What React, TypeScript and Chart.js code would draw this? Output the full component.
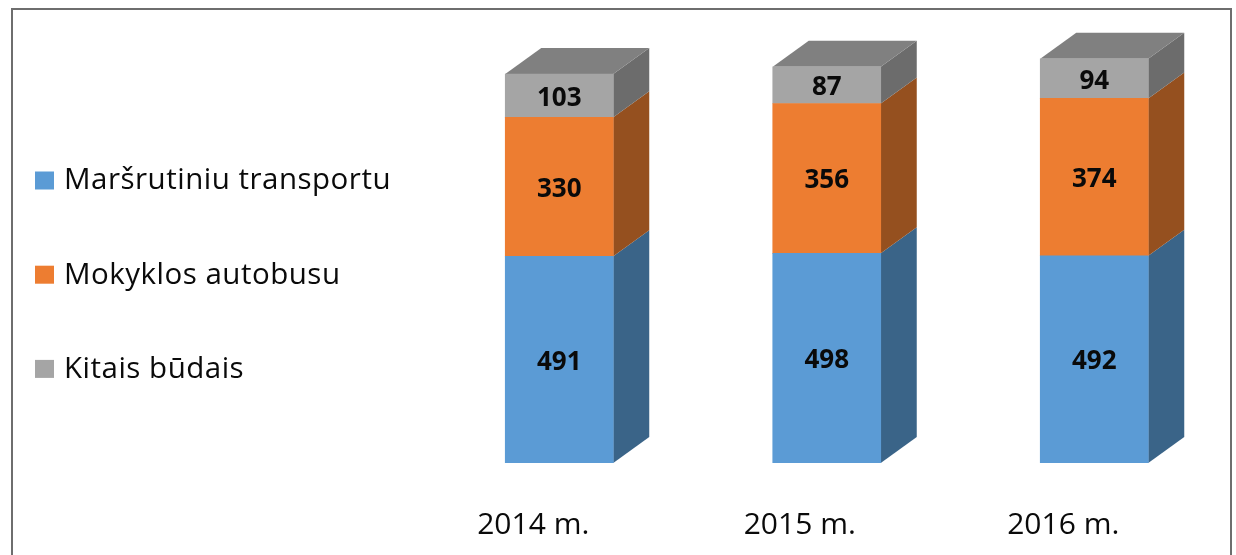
import { useEffect, useRef } from "react";
import { Chart, registerables } from "chart.js";

Chart.register(...registerables);

const categories = ["2014 m.", "2015 m.", "2016 m."];
const seriesNames = ["Maršrutiniu transportu", "Mokyklos autobusu", "Kitais būdais"];
const marsrutiniu = [491, 498, 492];
const mokyklos = [330, 356, 374];
const kitais = [103, 87, 94];
const frontColors = ["#5B9BD5", "#ED7D31", "#A5A5A5"];
const sideColors = ["#3A6488", "#95501F", "#6C6C6C"];
const capColor = "#808080";
const categoryLabelShift = [-26, -27, -31];

const DEPTH_X = 36;
const DEPTH_Y = 26;
const TEXT = "#0A0A0A";
const FONT = '"Open Sans", "Noto Sans", sans-serif';

const decorations = {
  id: "decorations",
  beforeDraw(chart: any) {
    const c = chart.ctx;
    c.save();
    c.fillStyle = "#ffffff";
    c.fillRect(0, 0, chart.width, chart.height);
    c.strokeStyle = "#6E6E6E";
    c.lineWidth = 2;
    c.strokeRect(12, 9, 1219, 600);
    c.restore();
  },
  beforeDatasetsDraw(chart: any) {
    const c = chart.ctx;
    c.save();
    chart.data.datasets.forEach((_: any, di: number) => {
      chart.getDatasetMeta(di).data.forEach((bar: any) => {
        const left = bar.x - bar.width / 2;
        const right = bar.x + bar.width / 2;
        c.fillStyle = sideColors[di];
        c.beginPath();
        c.moveTo(right, bar.y);
        c.lineTo(right + DEPTH_X, bar.y - DEPTH_Y);
        c.lineTo(right + DEPTH_X, bar.base - DEPTH_Y);
        c.lineTo(right, bar.base);
        c.closePath();
        c.fill();
        if (di === chart.data.datasets.length - 1) {
          c.fillStyle = capColor;
          c.beginPath();
          c.moveTo(left, bar.y);
          c.lineTo(left + DEPTH_X, bar.y - DEPTH_Y);
          c.lineTo(right + DEPTH_X, bar.y - DEPTH_Y);
          c.lineTo(right, bar.y);
          c.closePath();
          c.fill();
        }
      });
    });
    c.restore();
  },
  afterDatasetsDraw(chart: any) {
    const c = chart.ctx;
    c.save();
    c.fillStyle = TEXT;
    c.textAlign = "center";
    c.textBaseline = "middle";
    c.font = `bold 26px ${FONT}`;
    chart.data.datasets.forEach((ds: any, di: number) => {
      chart.getDatasetMeta(di).data.forEach((bar: any, i: number) => {
        c.fillText(String(ds.data[i]), bar.x, (bar.y + bar.base) / 2 + 2.5);
      });
    });

    c.font = `30px ${FONT}`;
    chart.data.labels.forEach((label: string, i: number) => {
      c.fillText(label, chart.scales.x.getPixelForValue(i) + categoryLabelShift[i], 525);
    });

    c.textAlign = "left";
    c.font = `29.5px ${FONT}`;
    c.letterSpacing = "0.5px";
    chart.data.datasets.forEach((ds: any, di: number) => {
      const y = 180.5 + di * 94.2;
      c.fillStyle = ds.backgroundColor;
      c.fillRect(35, y - 9, 19, 18);
      c.fillStyle = TEXT;
      c.fillText(ds.label, 64, y + 0.5);
    });
    c.restore();
  },
};

export default function App() {
  const ref = useRef<HTMLCanvasElement>(null);
  useEffect(() => {
    const chart = new Chart(ref.current!, {
      type: "bar",
      data: {
        labels: categories,
        datasets: [marsrutiniu, mokyklos, kitais].map((data, i) => ({
          label: seriesNames[i],
          data,
          backgroundColor: frontColors[i],
          borderWidth: 0,
          barThickness: 108,
        })),
      },
      options: {
        animation: false,
        responsive: false,
        layout: { padding: { left: 425.5, right: 8, top: 10, bottom: 92 } },
        plugins: { legend: { display: false }, tooltip: { enabled: false } },
        scales: {
          x: { stacked: true, display: false },
          y: { stacked: true, display: false, min: 0, max: 1076 },
        },
      },
      plugins: [decorations],
    });
    return () => chart.destroy();
  }, []);
  return (
    <canvas
      ref={ref}
      width={1236}
      height={555}
      style={{ position: "fixed", left: 0, top: 0, width: 1236, height: 555, display: "block" }}
    />
  );
}
